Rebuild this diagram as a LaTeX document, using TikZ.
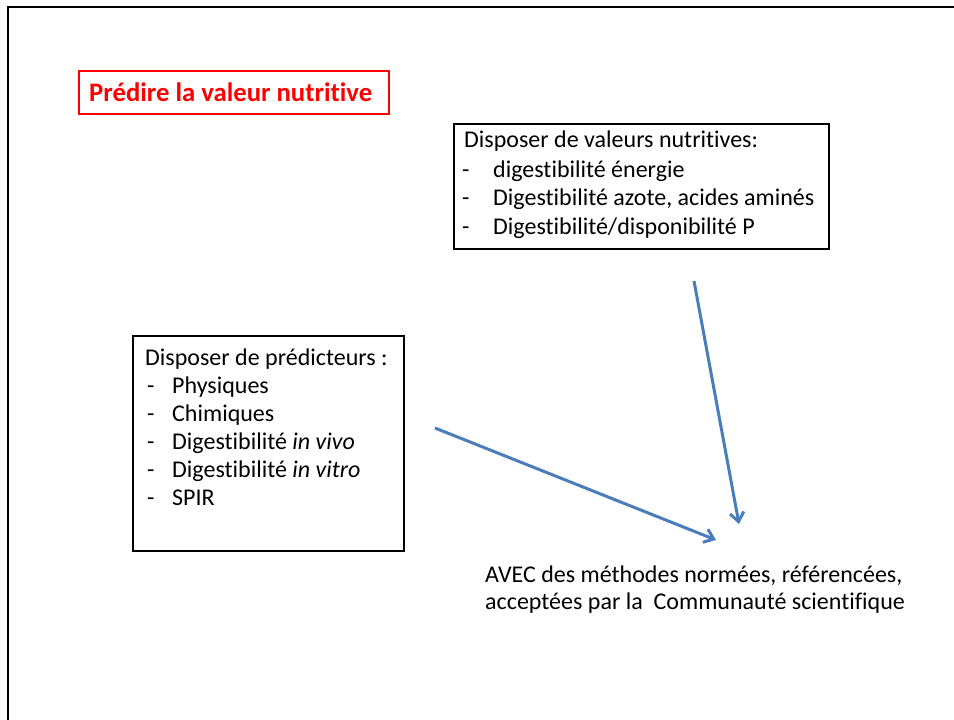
\documentclass[tikz,border=0pt]{standalone}
\usepackage{fontspec}
\setmainfont{Carlito}[RawFeature={-liga;-clig;-dlig}]
\usetikzlibrary{arrows.meta}
\definecolor{arrowblue}{HTML}{4A7EBB}
\definecolor{titlered}{HTML}{FF0000}
\begin{document}
\begin{tikzpicture}[x=1pt,y=-1pt,
  txt/.style={anchor=base west, inner sep=0pt, font=\fontsize{24}{29}\selectfont},
  ttl/.style={anchor=base west, inner sep=0pt, text=titlered, font=\fontsize{26.7}{32}\selectfont\bfseries},
  box/.style={draw=black, line width=2pt, rectangle, anchor=north west, inner sep=0pt},
  redbox/.style={draw=titlered, line width=2pt, rectangle, anchor=north west, inner sep=0pt},
  link/.style={draw=arrowblue, line width=3pt, -{Straight Barb[length=9pt,width=14pt]}}
]
\useasboundingbox (0,0) rectangle (954,720);
\clip (0,0) rectangle (954,720);
\fill[white] (0,0) rectangle (954,720);
% slide frame
\draw[line width=2.5pt] (8,740) -- (8,7) -- (970,7);

% title
\node[redbox, minimum width=310pt, minimum height=43pt] (titlebox) at (78,70) {};
\node[ttl] (title) at (89,101) {Prédire la valeur nutritive};

% right box
\node[box, minimum width=375pt, minimum height=125pt] (boxR) at (453,123) {};
\node[txt] (r0) at (464,147) {Disposer de valeurs nutritives:};
\node[txt] (rd1) at (462,177) {-};
\node[txt] (r1) at (493,177) {digestibilité énergie};
\node[txt] (rd2) at (462,205) {-};
\node[txt] (r2) at (493,205) {Digestibilité azote, acides aminés};
\node[txt] (rd3) at (462,234) {-};
\node[txt] (r3) at (493,234) {Digestibilité/disponibilité P};

% left box
\node[box, minimum width=271pt, minimum height=215pt] (boxL) at (132,335) {};
\node[txt] (l0) at (145,365) {Disposer de prédicteurs :};
\node[txt] (ld1) at (147,393) {-};
\node[txt] (l1) at (172,393) {Physiques};
\node[txt] (ld2) at (147,421) {-};
\node[txt] (l2) at (172,421) {Chimiques};
\node[txt] (ld3) at (147,449) {-};
\node[txt] (l3) at (172,449) {Digestibilité \textit{in vivo}};
\node[txt] (ld4) at (147,477) {-};
\node[txt] (l4) at (172,477) {Digestibilité \textit{in vitro}};
\node[txt] (ld5) at (147,505) {-};
\node[txt] (l5) at (172,505) {SPIR};

% bottom text
\node[txt] (b1) at (485,582) {AVEC des méthodes normées, référencées,};
\node[txt] (b2) at (485,609) {acceptées par la\ \ Communauté scientifique};

% arrows
\coordinate (a1s) at (435,428);
\coordinate (a1e) at (716,540);
\coordinate (a2s) at (694,281);
\coordinate (a2e) at (739,524);
\draw[link] (a1s) -- (a1e);
\draw[link] (a2s) -- (a2e);
\end{tikzpicture}
\end{document}
